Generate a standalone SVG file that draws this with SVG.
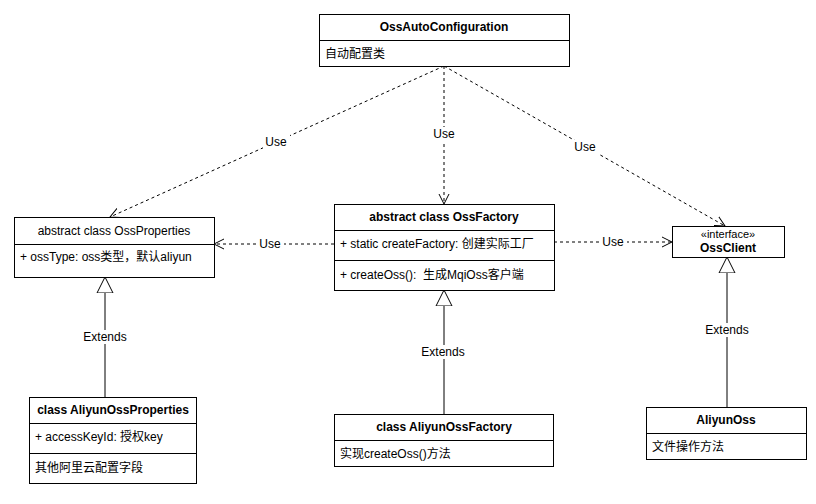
<svg xmlns="http://www.w3.org/2000/svg" width="816" height="504" viewBox="0 0 816 504">
<style>
.box{fill:#fff;stroke:#000;stroke-width:1}
.t{font-family:"Liberation Sans","Noto Sans CJK SC",sans-serif;font-size:12px;fill:#000}
.b{font-weight:bold;text-anchor:middle}
.c{text-anchor:middle}
.dash{fill:none;stroke:#000;stroke-dasharray:3 3}
.solid{fill:none;stroke:#000}
.lbl{fill:#fff}
</style>
<defs>
<marker id="open" markerWidth="12" markerHeight="12" refX="10" refY="5" orient="auto" markerUnits="userSpaceOnUse" viewBox="0 0 12 10">
<path d="M0,0 L10,5 L0,10" fill="none" stroke="#000"/>
</marker>
<marker id="tri" markerWidth="18" markerHeight="18" refX="16" refY="8" orient="auto" markerUnits="userSpaceOnUse" viewBox="0 0 18 16">
<path d="M0,0 L16,8 L0,16 Z" fill="#fff" stroke="#000"/>
</marker>
</defs>
<rect width="816" height="504" fill="#fff"/>
<g id="connectors">
<path class="dash" d="M444,66 L110,217" marker-end="url(#open)"/>
<path class="dash" d="M444,66 L444,204" marker-end="url(#open)"/>
<path class="dash" d="M444,66 L725,226" marker-end="url(#open)"/>
<path class="dash" d="M334,244 L214,244" marker-end="url(#open)"/>
<path class="dash" d="M554,242 L672,242" marker-end="url(#open)"/>
<path class="solid" d="M105,397 L105,277" marker-end="url(#tri)"/>
<path class="solid" d="M444,414 L444,290" marker-end="url(#tri)"/>
<path class="solid" d="M727,407 L727,257" marker-end="url(#tri)"/>
<rect class="lbl" x="263" y="135" width="27" height="14"/>
<text class="t c" x="276" y="146">Use</text>
<rect class="lbl" x="431" y="127" width="27" height="14"/>
<text class="t c" x="444" y="138">Use</text>
<rect class="lbl" x="572" y="140" width="27" height="14"/>
<text class="t c" x="585" y="151">Use</text>
<rect class="lbl" x="257" y="237" width="27" height="14"/>
<text class="t c" x="270" y="248">Use</text>
<rect class="lbl" x="600" y="235" width="27" height="14"/>
<text class="t c" x="613" y="246">Use</text>
<rect class="lbl" x="82" y="330" width="46" height="14"/>
<text class="t c" x="105" y="341">Extends</text>
<rect class="lbl" x="420" y="345" width="46" height="14"/>
<text class="t c" x="443" y="356">Extends</text>
<rect class="lbl" x="704" y="323" width="46" height="14"/>
<text class="t c" x="727" y="334">Extends</text>
</g>
<g id="OssAutoConfiguration">
<rect class="box" x="319.5" y="14.5" width="250" height="52"/>
<line class="solid" x1="319.5" y1="40.5" x2="569.5" y2="40.5"/>
<text class="t b" x="444" y="31">OssAutoConfiguration</text>
<text class="t" x="325" y="58">自动配置类</text>
</g>
<g id="OssProperties">
<rect class="box" x="14.5" y="217.5" width="200" height="60"/>
<line class="solid" x1="14.5" y1="244.5" x2="214.5" y2="244.5"/>
<text class="t c" x="114" y="235">abstract class OssProperties</text>
<text class="t" x="20" y="261">+ ossType: oss类型，默认aliyun</text>
</g>
<g id="OssFactory">
<rect class="box" x="334.5" y="204.5" width="220" height="86"/>
<line class="solid" x1="334.5" y1="230.5" x2="554.5" y2="230.5"/>
<line class="solid" x1="334.5" y1="260.5" x2="554.5" y2="260.5"/>
<text class="t b" x="444" y="221">abstract class OssFactory</text>
<text class="t" x="340" y="248">+ static createFactory: 创建实际工厂</text>
<text class="t" x="340" y="279">+ createOss():&#160; 生成MqiOss客户端</text>
</g>
<g id="OssClient">
<rect class="box" x="672.5" y="226.5" width="112" height="31"/>
<text class="t c" x="728" y="238" style="font-size:11px">«interface»</text>
<text class="t b" x="728" y="252">OssClient</text>
</g>
<g id="AliyunOssProperties">
<rect class="box" x="29.5" y="397.5" width="167" height="86"/>
<line class="solid" x1="29.5" y1="423.5" x2="196.5" y2="423.5"/>
<line class="solid" x1="29.5" y1="453.5" x2="196.5" y2="453.5"/>
<text class="t b" x="113" y="414">class AliyunOssProperties</text>
<text class="t" x="35" y="441">+ accessKeyId: 授权key</text>
<text class="t" x="35" y="472">其他阿里云配置字段</text>
</g>
<g id="AliyunOssFactory">
<rect class="box" x="334.5" y="414.5" width="219" height="52"/>
<line class="solid" x1="334.5" y1="440.5" x2="553.5" y2="440.5"/>
<text class="t b" x="444" y="431">class AliyunOssFactory</text>
<text class="t" x="340" y="458">实现createOss()方法</text>
</g>
<g id="AliyunOss">
<rect class="box" x="646.5" y="407.5" width="160" height="52"/>
<line class="solid" x1="646.5" y1="433.5" x2="806.5" y2="433.5"/>
<text class="t b" x="726" y="424">AliyunOss</text>
<text class="t" x="652" y="451">文件操作方法</text>
</g>
</svg>
